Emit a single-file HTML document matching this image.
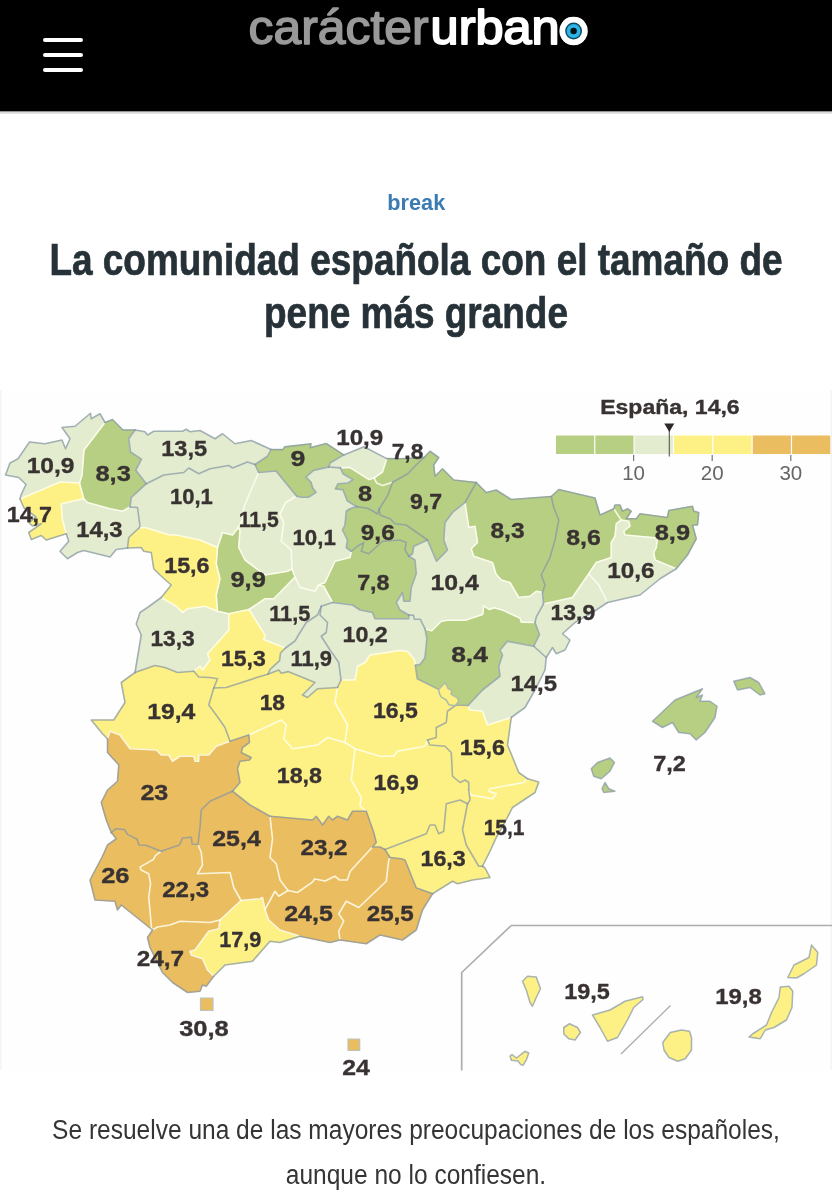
<!DOCTYPE html>
<html lang="es">
<head>
<meta charset="utf-8">
<title>La comunidad española con el tamaño de pene más grande</title>
<style>
html,body{margin:0;padding:0;background:#fff;}
body{width:832px;height:1200px;overflow:hidden;position:relative;font-family:"Liberation Sans",sans-serif;}
.hdr{position:absolute;left:0;top:0;width:832px;height:111px;background:#000;}
.burger{position:absolute;left:42.5px;top:37.8px;width:40px;height:34px;}
.burger i{position:absolute;left:0;width:40px;height:4.4px;border-radius:2.2px;background:#fff;}
.logo{position:absolute;left:0;top:0;width:832px;height:116px;}
.cat{position:absolute;left:0;top:186.7px;width:832px;text-align:center;font-weight:bold;font-size:22.7px;line-height:30px;color:#3b7bb4;}
.cat span{display:inline-block;transform:scaleX(0.955);transform-origin:50% 50%;}
h1{position:absolute;left:-100px;top:232.9px;width:1032px;margin:0;text-align:center;font-weight:bold;font-size:44px;line-height:53px;color:#263238;}
h1 span{-webkit-text-stroke:0.7px #263238;display:block;white-space:nowrap;transform:scaleX(0.84);transform-origin:50% 50%;}
.cap{position:absolute;left:-100px;top:1108px;width:1032px;margin:0;text-align:center;font-size:27px;line-height:45px;color:#353535;}
.cap span{display:block;white-space:nowrap;transform:scaleX(0.908);transform-origin:50% 50%;}
#map{position:absolute;left:0;top:0;width:832px;height:1200px;}
</style>
</head>
<body>
<div class="hdr">
  <div class="burger"><i style="top:0"></i><i style="top:15px"></i><i style="top:30px"></i></div>
</div>
<svg class="logo" viewBox="0 0 832 116" width="832" height="116">
  <rect x="0" y="110" width="832" height="1.6" fill="#000"/>
  <rect x="0" y="111.6" width="832" height="2.1" fill="#d9d9d9"/>
  <text x="248.6" y="44.3" font-family="Liberation Sans, sans-serif" font-size="47.5" fill="#999" stroke="#999" stroke-width="1.5" stroke-linejoin="round" textLength="180" lengthAdjust="spacingAndGlyphs">carácter</text>
  <text x="430.6" y="44.3" font-family="Liberation Sans, sans-serif" font-size="47.5" fill="#fff" stroke="#fff" stroke-width="1.9" stroke-linejoin="round" textLength="157" lengthAdjust="spacingAndGlyphs">urbano</text>
  <circle cx="573.6" cy="31" r="14.2" fill="#fff"/>
  <circle cx="573.6" cy="31" r="8.4" fill="#0b4560"/>
  <circle cx="573.6" cy="31" r="7" fill="#2bb4e4"/>
  <circle cx="573.6" cy="31" r="3.2" fill="#04121a"/>
</svg>
<div class="cat"><span>break</span></div>
<h1><span id="t1">La comunidad española con el tamaño de</span><span id="t2">pene más grande</span></h1>
<svg id="map" viewBox="0 0 832 1200" width="832" height="1200">
<rect x="0" y="390" width="832" height="680" fill="#fefefe"/>
<rect x="0" y="390" width="1.5" height="680" fill="#f4f4f4"/>
<rect x="830.5" y="390" width="1.5" height="680" fill="#f4f4f4"/>
<g stroke-linejoin="round" stroke-linecap="round">
<polygon points="105,422.5 112.5,419.5 123,430 135,430 128.75,438.75 130.5,452 141.5,459.1 135.8,470.2 146.3,483.7 131.25,497.5 130,507 122.5,511.25 110,508.75 87.5,502.5 83.75,498.75 79.5,483 82,475 84,450 105,422.5" fill="#b7cf83" stroke="#b7cf83" stroke-width="1"/>
<polygon points="255,464.5 267.5,456.25 271,449.5 282.7,449.6 284.6,446.9 311,443.8 310.2,447.7 326.2,443.5 343.8,454.9 330.4,462.8 328.7,467 313.6,470.4 306,477 311,482.2 312.7,488 316,492.3 308.5,497.3 301,497.3 296.5,496 276,471 258.75,472.5 255,464.5" fill="#b7cf83" stroke="#b7cf83" stroke-width="1"/>
<polygon points="374,478 382.5,472 386.75,458.6 400,458.75 424,457.5 416,465 407.8,473.7 392.6,482.2 382.5,485.5 376.7,483 374,478" fill="#b7cf83" stroke="#b7cf83" stroke-width="1"/>
<polygon points="340.5,467.9 349.7,467.4 369,479.6 374,478 376.7,483 382.5,485.5 392.6,482.2 387.6,495.6 379.2,509 377.5,514 372.4,510.8 367.4,508.2 356.5,506.6 347.2,500.7 343,489.7 335.4,488.9 338,483.8 348,483 353,479.6 343,473.7 340.5,467.9" fill="#b7cf83" stroke="#b7cf83" stroke-width="1"/>
<polygon points="392.6,482.2 407.8,473.7 416,465 424,457.5 430,451.25 438.75,457.5 433.75,465 435,476.25 442.5,468.75 453.75,480 476.25,482.5 465,502.5 452.5,512.5 445,522.5 443.75,540 447.5,550 436.5,561.25 427.5,540 406.25,525 395,523.75 390,518.75 380,515 379.2,509 387.6,495.6 392.6,482.2" fill="#b7cf83" stroke="#b7cf83" stroke-width="1"/>
<polygon points="356.5,506.6 367.4,508.2 372.4,510.8 377.5,514 379.2,509 380,515 390,518.75 395,523.75 406.25,525 427.5,540 413.75,546.25 412.5,553.75 408.75,556.25 405,550 406.25,542.5 400,540 382.5,541.25 368.75,553.75 361.25,551.25 363.75,542.5 357.5,546.25 351.25,551.25 346.25,547.5 347.5,540 342.5,530 345,525 346.25,511.25 350,508.75 356.5,506.6" fill="#b7cf83" stroke="#b7cf83" stroke-width="1"/>
<polygon points="476.25,482.5 465,502.5 468.75,527.5 475,526.25 477.5,542.5 471.25,548.75 473.75,556.25 492.5,562.5 496,574 501.25,580 510,582.5 518.75,597.5 530,596.25 536.25,591.25 542.5,592.5 545,585 541.25,575 550,557.5 555,540 558.75,520 553.75,507.5 551.25,496.5 511.25,499.5 496.25,490 486.25,492.5 476.25,482.5" fill="#b7cf83" stroke="#b7cf83" stroke-width="1"/>
<polygon points="535,622.5 539.4,634.6 533.75,646.25 507.5,641.25 500,650 502.5,655 498.75,666.25 500,676.25 482.5,690 468,705.5 456.25,705 447,698 438.5,689.4 417.3,678.8 415.4,665.4 420.2,664.4 425,657.7 426.9,638.5 425,628.8 431.7,630.8 441.3,621.2 448,620.2 465.4,620.2 482.7,614.4 483.7,605.8 489.4,609.6 494.2,607.7 503.8,610.6 520.2,618.3 521.2,622.1 535,622.5" fill="#b7cf83" stroke="#b7cf83" stroke-width="1"/>
<polygon points="551.25,496.5 553.75,507.5 558.75,520 555,540 550,557.5 541.25,575 545,585 542.5,592.5 543.5,604 572.5,597.5 577.5,590 588.75,573.75 596.25,562.5 611.25,557.5 611.25,542.5 615,536.25 616.25,523.75 621.25,520 613.75,508.75 600,515 595,498 558.75,489.5 551.25,496.5" fill="#b7cf83" stroke="#b7cf83" stroke-width="1"/>
<polygon points="613.75,508.75 621.25,520 628.75,521.25 630,526.25 623.75,531.25 625,535 657.5,538 656.25,547.5 653.75,552.5 655,560 676.25,568.75 687.5,555 696.25,538.75 692.5,525 697.5,525 698.75,512.5 693.75,511.25 692.5,506.25 668.75,510.5 667.5,517.5 640,513.75 636.25,518.75 626.25,518.75 631.25,511.25 627.5,508.75 622.5,511.25 620,505 615,505 613.75,508.75" fill="#b7cf83" stroke="#b7cf83" stroke-width="1"/>
<polygon points="217.5,547.5 222.5,532.5 232.5,535 238,528 240,530 238.75,547.5 245,560 265,575 287.5,571.25 292,569 295,577 273.75,598.75 265,598.75 249,609.5 228.75,613.75 217.5,611.25 216.25,595 220,578.75 216.25,563.75 217.5,547.5" fill="#b7cf83" stroke="#b7cf83" stroke-width="1"/>
<polygon points="408.75,556.25 405,550 406.25,542.5 400,540 382.5,541.25 368.75,553.75 361.25,551.25 363.75,542.5 357.5,546.25 351.25,551.25 350,557.5 335,561.25 325,582.5 318.75,585 323.75,586.25 332.5,602.5 352.5,605 360,610 372.5,612.5 375,618.75 408.75,618.75 408.75,615 400,610 396.25,602.5 402.5,592.5 403.75,601.25 410,601.25 411.25,587.5 416.25,573.75 415,560 408.75,556.25" fill="#b7cf83" stroke="#b7cf83" stroke-width="1"/>
<polygon points="20,499 21,495 26,484.5 18.75,477.5 5.5,475 10,463 18,458.75 29.5,442 45,443.75 62,440 65.5,448.75 70,438.75 62,427.5 75,426.25 90.5,413.25 91.25,418.75 100,413.75 105,422.5 84,450 82,475 79.5,483 60,482 20,499" fill="#e3ecce" stroke="#e3ecce" stroke-width="1"/>
<polygon points="83.75,498.75 61.25,503.75 62.5,520 66.25,533.75 68.75,541.25 60,551.25 67.5,558.75 77.5,552.5 83.75,550.5 110,557 116.25,549.5 127.5,548 128.75,537.5 139,528 140,526 137.5,507.5 130,507 122.5,511.25 110,508.75 87.5,502.5 83.75,498.75" fill="#e3ecce" stroke="#e3ecce" stroke-width="1"/>
<polygon points="146.3,483.7 135.8,470.2 141.5,459.1 130.5,452 128.75,438.75 135,430 145,431.75 147.5,435 153.75,431.25 182.5,431.25 186.25,429.25 190,431.75 200,430.5 215,438.75 222.5,433.75 235,443.75 251.25,440.5 271,449.5 267.5,456.25 255,464.5 247.5,462 232.5,468 228.75,465.5 210,468.75 198.75,473.75 188.75,468 183.75,472.5 163.75,475 146.3,483.7" fill="#e3ecce" stroke="#e3ecce" stroke-width="1"/>
<polygon points="343.8,454.9 330.4,462.8 328.7,467 340.5,467.9 349.7,467.4 369,479.6 374,478 382.5,472 386.75,458.6 364,446.8 343.8,454.9" fill="#e3ecce" stroke="#e3ecce" stroke-width="1"/>
<polygon points="465,502.5 452.5,512.5 445,522.5 443.75,540 447.5,550 436.5,561.25 427.5,540 413.75,546.25 412.5,553.75 408.75,556.25 415,560 416.25,573.75 411.25,587.5 410,601.25 403.75,601.25 402.5,592.5 396.25,602.5 400,610 408.75,615 413.5,615.4 414.4,619.2 420.2,619.2 425,628.8 431.7,630.8 441.3,621.2 448,620.2 465.4,620.2 482.7,614.4 483.7,605.8 489.4,609.6 494.2,607.7 503.8,610.6 520.2,618.3 521.2,622.1 535,622.5 536.5,616.3 543.5,604 542.5,592.5 536.25,591.25 530,596.25 518.75,597.5 510,582.5 501.25,580 496,574 492.5,562.5 473.75,556.25 471.25,548.75 477.5,542.5 475,526.25 468.75,527.5 465,502.5" fill="#e3ecce" stroke="#e3ecce" stroke-width="1"/>
<polygon points="621.25,520 616.25,523.75 615,536.25 611.25,542.5 611.25,557.5 596.25,562.5 588.75,573.75 598.75,585 607.5,602.5 640,595 660,578.75 676.25,568.75 655,560 653.75,552.5 656.25,547.5 657.5,538 625,535 623.75,531.25 630,526.25 628.75,521.25 621.25,520" fill="#e3ecce" stroke="#e3ecce" stroke-width="1"/>
<polygon points="588.75,573.75 577.5,590 572.5,597.5 543.5,604 536.5,616.3 535,622.5 539.4,634.6 533.75,646.25 546.25,657.5 552.5,647.5 556.25,653.75 565,650 570,640 562.5,633.75 575,622.5 592.5,612.5 607.5,602.5 598.75,585 588.75,573.75" fill="#e3ecce" stroke="#e3ecce" stroke-width="1"/>
<polygon points="130,507 131.25,497.5 146.3,483.7 163.75,475 183.75,472.5 188.75,468 198.75,473.75 210,468.75 228.75,465.5 232.5,468 247.5,462 255,464.5 258.75,472.5 250,492.5 243.75,507.5 242.5,520 238,528 232.5,535 222.5,532.5 217.5,547.5 200,540 176.25,535 170,535 145,527.5 139,528 140,526 137.5,507.5 130,507" fill="#e3ecce" stroke="#e3ecce" stroke-width="1"/>
<polygon points="217.5,611.25 228.75,613.75 228.75,630 207.5,653.75 210,660 202.5,670 200,666.25 193.75,671.25 177.5,672.5 165,667.5 155,665.5 135,672.5 141.25,635 136.25,624 140,612.5 147.5,607.5 161.25,597.5 176.25,606.25 182.5,612.5 187.5,608.75 205,606.25 217.5,611.25" fill="#e3ecce" stroke="#e3ecce" stroke-width="1"/>
<polygon points="258.75,472.5 276,471 296.5,496 285.6,502.7 279.8,514.2 283.75,522.5 281.25,541.25 291.25,550 292,569 287.5,571.25 265,575 245,560 238.75,547.5 240,530 238,528 242.5,520 243.75,507.5 250,492.5 258.75,472.5" fill="#e3ecce" stroke="#e3ecce" stroke-width="1"/>
<polygon points="296.5,496 301,497.3 308.5,497.3 316,492.3 312.7,488 311,482.2 306,477 313.6,470.4 328.7,467 340.5,467.9 343,473.7 353,479.6 348,483 338,483.8 335.4,488.9 343,489.7 347.2,500.7 356.5,506.6 350,508.75 346.25,511.25 345,525 342.5,530 347.5,540 346.25,547.5 351.25,551.25 350,557.5 335,561.25 325,582.5 318.75,585 315,591.25 300,587.5 295,577 292,569 291.25,550 281.25,541.25 283.75,522.5 279.8,514.2 285.6,502.7 296.5,496" fill="#e3ecce" stroke="#e3ecce" stroke-width="1"/>
<polygon points="295,577 273.75,598.75 265,598.75 249,609.5 265.3,635.4 263.7,639.6 285.5,648 295,641 300,632.5 306.25,622.5 317.5,615 321.25,606.25 332.5,602.5 323.75,586.25 318.75,585 315,591.25 300,587.5 295,577" fill="#e3ecce" stroke="#e3ecce" stroke-width="1"/>
<polygon points="321.25,606.25 317.5,615 306.25,622.5 300,632.5 295,641 285.5,648 280.5,653 279.6,660.7 270.4,669.1 267.9,674.2 278.8,670 281.3,673.3 288,671.6 315,682.5 302.5,695 307.5,697.5 317.5,688.75 337.5,687.5 341,680 338.75,662.5 330,650 321.25,636.25 326.25,632.5 327.5,622.5 320,615 321.25,606.25" fill="#e3ecce" stroke="#e3ecce" stroke-width="1"/>
<polygon points="408.75,615 413.5,615.4 414.4,619.2 420.2,619.2 425,628.8 426.9,638.5 425,657.7 420.2,664.4 415.4,665.4 414.4,659.6 407.7,651.5 400,650.4 370,655 365,662.5 357.5,666.25 355,680 341,680 338.75,662.5 330,650 321.25,636.25 326.25,632.5 327.5,622.5 320,615 321.25,606.25 332.5,602.5 352.5,605 360,610 372.5,612.5 375,618.75 408.75,618.75 408.75,615" fill="#e3ecce" stroke="#e3ecce" stroke-width="1"/>
<polygon points="533.75,646.25 546.25,657.5 545,670 535,690 525,707.5 511.25,717.5 487.5,725 482.5,711.25 470,710 468,705.5 482.5,690 500,676.25 498.75,666.25 502.5,655 500,650 507.5,641.25 533.75,646.25" fill="#e3ecce" stroke="#e3ecce" stroke-width="1"/>
<polygon points="79.5,483 60,482 20,499 23.75,507.5 36,517 28.75,522.5 32.5,526 41.25,523.75 28.75,532.5 31.25,539.5 41.25,535.5 46.25,540 66.25,533.75 62.5,520 61.25,503.75 83.75,498.75 79.5,483" fill="#fdf185" stroke="#fdf185" stroke-width="1"/>
<polygon points="139,528 128.75,537.5 127.5,548 141.25,547.5 143.75,551.25 151.25,552.5 153.75,568.75 160,575 171.25,585 161.25,597.5 176.25,606.25 182.5,612.5 187.5,608.75 205,606.25 217.5,611.25 216.25,595 220,578.75 216.25,563.75 217.5,547.5 200,540 176.25,535 170,535 145,527.5 139,528" fill="#fdf185" stroke="#fdf185" stroke-width="1"/>
<polygon points="228.75,613.75 249,609.5 265.3,635.4 263.7,639.6 285.5,648 280.5,653 279.6,660.7 270.4,669.1 267.9,674.2 260,676.5 226.25,687.5 213.75,688 217.5,678.75 210,677.5 198.75,677 193.75,671.25 200,666.25 202.5,670 210,660 207.5,653.75 228.75,630 228.75,613.75" fill="#fdf185" stroke="#fdf185" stroke-width="1"/>
<polygon points="415.4,665.4 417.3,678.8 438.5,689.4 447,698 456.25,705 452.5,707.5 447.5,711.25 446.25,722.5 436.25,727.5 436.25,737.5 427.5,740 425,746.25 397.5,751.25 393.75,756.25 380,756.25 355,748.75 345,742.5 347.5,725 335,702.5 337.5,687.5 341,680 355,680 357.5,666.25 365,662.5 370,655 400,650.4 407.7,651.5 414.4,659.6 415.4,665.4" fill="#fdf185" stroke="#fdf185" stroke-width="1"/>
<polygon points="267.9,674.2 260,676.5 226.25,687.5 213.75,688 208.75,705 212.5,710 216.25,715 225,727.5 230,741.25 248.75,735 281.25,720 286.25,725 283.75,738.75 292.5,748.75 317.5,745 327.5,737.5 345,742.5 347.5,725 335,702.5 337.5,687.5 317.5,688.75 307.5,697.5 302.5,695 315,682.5 288,671.6 281.3,673.3 278.8,670 267.9,674.2" fill="#fdf185" stroke="#fdf185" stroke-width="1"/>
<polygon points="345,742.5 355,748.75 351.25,780 361.25,797.5 360,806 366.25,811.25 352.5,811.25 347.5,820 337.5,816.25 332.5,820 328.75,816.25 322.5,825 316.25,816.25 312.5,820 270,816.25 250,805 232.5,791.25 240,782.5 237.5,768.75 240,761.25 249.5,760 251.25,757.5 241.25,752.5 242.5,747.5 249.5,742.5 248.75,735 281.25,720 286.25,725 283.75,738.75 292.5,748.75 317.5,745 327.5,737.5 345,742.5" fill="#fdf185" stroke="#fdf185" stroke-width="1"/>
<polygon points="427.5,740 430,745 445,746.25 451.25,752.5 452.5,776.25 460,782.5 465,780 468.75,782.5 468.75,790 470,800 467.5,803.75 460,800 446.25,803.75 443.75,831.25 438.75,833.75 435,825 430,825 426.25,833.75 385,849.5 380,847 372.5,847 376.25,842.5 373.75,832.5 366.25,811.25 360,806 361.25,797.5 351.25,780 355,748.75 380,756.25 393.75,756.25 397.5,751.25 425,746.25 427.5,740" fill="#fdf185" stroke="#fdf185" stroke-width="1"/>
<polygon points="135,672.5 155,665.5 165,667.5 177.5,672.5 193.75,671.25 198.75,677 210,677.5 217.5,678.75 213.75,688 208.75,705 212.5,710 216.25,715 225,727.5 230,741.25 216.25,746.25 208.75,755 198.75,755 198.75,761.25 195,761.25 193.75,756.25 180,756.25 172.5,761.25 168.75,755 161.25,755 156.25,750 130,748.75 120,735 110,731.25 107.5,738.75 102.5,733.75 91.25,720 113.75,720 125,702.5 121.25,682.5 135,672.5" fill="#fdf185" stroke="#fdf185" stroke-width="1"/>
<polygon points="456.25,705 468,705.5 470,710 482.5,711.25 487.5,725 511.25,717.5 507.5,745 518.75,772.5 527.5,778.75 523.75,782.5 490,788.75 488.75,791.25 496.25,793.75 492.5,798.75 471.25,795 468.75,790 468.75,782.5 465,780 460,782.5 452.5,776.25 451.25,752.5 445,746.25 430,745 427.5,740 436.25,737.5 436.25,727.5 446.25,722.5 447.5,711.25 452.5,707.5 456.25,705" fill="#fdf185" stroke="#fdf185" stroke-width="1"/>
<polygon points="468.75,790 471.25,795 492.5,798.75 496.25,793.75 488.75,791.25 490,788.75 523.75,782.5 527.5,778.75 538.75,782 535,792.5 512.5,807.5 505,822 496.25,837.5 490,851.25 482.5,866.25 478.75,866.25 466.25,845 462.5,830 467.5,803.75 470,800 468.75,790" fill="#fdf185" stroke="#fdf185" stroke-width="1"/>
<polygon points="467.5,803.75 462.5,830 466.25,845 478.75,866.25 482.5,866.25 485,868 490,877.5 472.5,880 457.5,883.75 452.5,881.25 432.5,893.75 418.75,888.75 416.25,888 405,860 401.25,858.75 390,857.5 385,849.5 426.25,833.75 430,825 435,825 438.75,833.75 443.75,831.25 446.25,803.75 460,800 467.5,803.75" fill="#fdf185" stroke="#fdf185" stroke-width="1"/>
<polygon points="220,920 241,900.5 260,898.75 262.5,897.5 265,909.5 268.75,920 280,930 300,936.25 280,942.5 270,941.25 252.5,961.25 225,965 213.75,976.25 207.5,970 202.5,958.75 191.25,955 190,951.25 195,950 208.75,931.25 218.75,928.75 220,920" fill="#fdf185" stroke="#fdf185" stroke-width="1"/>
<polygon points="230,741.25 248.75,735 249.5,742.5 242.5,747.5 241.25,752.5 251.25,757.5 249.5,760 240,761.25 237.5,768.75 240,782.5 232.5,791.25 210,801.25 201.25,810 200,827.5 198,844.5 192,844 191.4,837.3 182.5,838 179.4,845 161.2,851.2 145.8,845.3 139,845 137.1,839.2 127.5,834.4 124.6,829.6 116,828.7 111.25,832.5 106.25,820 101.25,802.5 107.5,790 117.5,781.25 118.75,765 107.5,752.5 107.5,738.75 110,731.25 120,735 130,748.75 156.25,750 161.25,755 168.75,755 172.5,761.25 180,756.25 193.75,756.25 195,761.25 198.75,761.25 198.75,755 208.75,755 216.25,746.25 230,741.25" fill="#e9bd60" stroke="#e9bd60" stroke-width="1"/>
<polygon points="161.2,851.2 145.8,845.3 139,845 137.1,839.2 127.5,834.4 124.6,829.6 116,828.7 111.25,832.5 116.25,838.75 107.5,845 102.5,856.25 90,880 95,900 115,901.25 117.5,910 121.25,905 152.5,930 151.5,927.7 148.7,897 150.6,883.5 148.7,873.8 141,870 140,867.1 153.5,859.4 155.4,855.6 161.2,851.2" fill="#e9bd60" stroke="#e9bd60" stroke-width="1"/>
<polygon points="198,844.5 192,844 191.4,837.3 182.5,838 179.4,845 161.2,851.2 155.4,855.6 153.5,859.4 140,867.1 141,870 148.7,873.8 150.6,883.5 148.7,897 151.5,927.7 152.5,930 157.5,927 170,925 180,921.25 210,922.5 220,920 241,900.5 233.75,887.5 230,872.5 197.5,873.75 202.5,865 201.25,852.5 198,844.5" fill="#e9bd60" stroke="#e9bd60" stroke-width="1"/>
<polygon points="152.5,930 157.5,927 170,925 180,921.25 210,922.5 220,920 218.75,928.75 208.75,931.25 195,950 190,951.25 191.25,955 202.5,958.75 207.5,970 213.75,976.25 206.25,986.25 202.5,985 200,991.25 187.5,992.5 172.5,982.5 162.5,972.5 150,947.5 147.5,937.5 152.5,930" fill="#e9bd60" stroke="#e9bd60" stroke-width="1"/>
<polygon points="232.5,791.25 210,801.25 201.25,810 200,827.5 198,844.5 201.25,852.5 202.5,865 197.5,873.75 230,872.5 233.75,887.5 241,900.5 260,898.75 262.5,897.5 265,909.5 275,891.25 278.75,896.25 288,890.5 280,880 276.25,863.75 270,857.5 272.5,838.75 270,816.25 250,805 232.5,791.25" fill="#e9bd60" stroke="#e9bd60" stroke-width="1"/>
<polygon points="270,816.25 272.5,838.75 270,857.5 276.25,863.75 280,880 288,890.5 297.5,892.5 312.7,881.9 314.6,879 325.2,881 334.8,876.2 339.6,880 347.3,880 350.2,871.3 372.5,847 376.25,842.5 373.75,832.5 366.25,811.25 352.5,811.25 347.5,820 337.5,816.25 332.5,820 328.75,816.25 322.5,825 316.25,816.25 312.5,820 270,816.25" fill="#e9bd60" stroke="#e9bd60" stroke-width="1"/>
<polygon points="385,849.5 390,857.5 388.75,860 386.25,881.25 358.75,907.5 346.25,901.25 338.75,913.75 343.75,921.25 338.75,931.25 340,940 330,942.5 300,936.25 280,930 268.75,920 265,909.5 275,891.25 278.75,896.25 288,890.5 297.5,892.5 312.7,881.9 314.6,879 325.2,881 334.8,876.2 339.6,880 347.3,880 350.2,871.3 372.5,847 380,847 385,849.5" fill="#e9bd60" stroke="#e9bd60" stroke-width="1"/>
<polygon points="390,857.5 401.25,858.75 405,860 416.25,888 418.75,888.75 432.5,893.75 422.5,910 416.25,930 402.5,940 380,935 366.25,943.75 340,940 338.75,931.25 343.75,921.25 338.75,913.75 346.25,901.25 358.75,907.5 386.25,881.25 388.75,860 390,857.5" fill="#e9bd60" stroke="#e9bd60" stroke-width="1"/>
<g fill="none" stroke="#fffff2" stroke-width="1.6" stroke-opacity="0.85" >
<polyline points="105,422.5 84,450 82,475 79.5,483"/>
<polyline points="79.5,483 60,482 20,499"/>
<polyline points="79.5,483 83.75,498.75"/>
<polyline points="83.75,498.75 61.25,503.75 62.5,520 66.25,533.75"/>
<polyline points="83.75,498.75 87.5,502.5 110,508.75 122.5,511.25 130,507"/>
<polyline points="340.5,467.9 349.7,467.4 369,479.6 374,478"/>
<polyline points="374,478 382.5,472 386.75,458.6"/>
<polyline points="374,478 376.7,483 382.5,485.5 392.6,482.2"/>
<polyline points="465,502.5 468.75,527.5 475,526.25 477.5,542.5 471.25,548.75 473.75,556.25 492.5,562.5 496,574 501.25,580 510,582.5 518.75,597.5 530,596.25 536.25,591.25 542.5,592.5"/>
<polyline points="613.75,508.75 621.25,520"/>
<polyline points="621.25,520 616.25,523.75 615,536.25 611.25,542.5 611.25,557.5 596.25,562.5 588.75,573.75"/>
<polyline points="588.75,573.75 577.5,590 572.5,597.5 543.5,604"/>
<polyline points="588.75,573.75 598.75,585 607.5,602.5"/>
<polyline points="621.25,520 628.75,521.25 630,526.25 623.75,531.25 625,535 657.5,538 656.25,547.5 653.75,552.5 655,560 676.25,568.75"/>
<polyline points="425,628.8 431.7,630.8 441.3,621.2 448,620.2 465.4,620.2 482.7,614.4 483.7,605.8 489.4,609.6 494.2,607.7 503.8,610.6 520.2,618.3 521.2,622.1 535,622.5"/>
<polyline points="468,705.5 470,710 482.5,711.25 487.5,725 511.25,717.5"/>
<polyline points="468.75,790 471.25,795 492.5,798.75 496.25,793.75 488.75,791.25 490,788.75 523.75,782.5 527.5,778.75"/>
<polyline points="139,528 145,527.5 170,535 176.25,535 200,540 217.5,547.5"/>
<polyline points="217.5,547.5 222.5,532.5 232.5,535 238,528"/>
<polyline points="258.75,472.5 250,492.5 243.75,507.5 242.5,520 238,528"/>
<polyline points="238,528 240,530 238.75,547.5 245,560 265,575 287.5,571.25 292,569"/>
<polyline points="296.5,496 285.6,502.7 279.8,514.2 283.75,522.5 281.25,541.25 291.25,550 292,569"/>
<polyline points="292,569 295,577"/>
<polyline points="295,577 273.75,598.75 265,598.75 249,609.5"/>
<polyline points="217.5,547.5 216.25,563.75 220,578.75 216.25,595 217.5,611.25"/>
<polyline points="217.5,611.25 228.75,613.75"/>
<polyline points="228.75,613.75 249,609.5"/>
<polyline points="217.5,611.25 205,606.25 187.5,608.75 182.5,612.5 176.25,606.25 161.25,597.5"/>
<polyline points="193.75,671.25 200,666.25 202.5,670 210,660 207.5,653.75 228.75,630 228.75,613.75"/>
<polyline points="249,609.5 265.3,635.4 263.7,639.6 285.5,648"/>
<polyline points="295,577 300,587.5 315,591.25 318.75,585"/>
<polyline points="318.75,585 325,582.5 335,561.25 350,557.5 351.25,551.25"/>
<polyline points="318.75,585 323.75,586.25 332.5,602.5"/>
<polyline points="341,680 355,680 357.5,666.25 365,662.5 370,655 400,650.4 407.7,651.5 414.4,659.6 415.4,665.4"/>
<polyline points="337.5,687.5 335,702.5 347.5,725 345,742.5"/>
<polyline points="345,742.5 355,748.75"/>
<polyline points="355,748.75 380,756.25 393.75,756.25 397.5,751.25 425,746.25 427.5,740"/>
<polyline points="248.75,735 281.25,720 286.25,725 283.75,738.75 292.5,748.75 317.5,745 327.5,737.5 345,742.5"/>
<polyline points="355,748.75 351.25,780 361.25,797.5 360,806 366.25,811.25"/>
<polyline points="107.5,738.75 110,731.25 120,735 130,748.75 156.25,750 161.25,755 168.75,755 172.5,761.25 180,756.25 193.75,756.25 195,761.25 198.75,761.25 198.75,755 208.75,755 216.25,746.25 230,741.25"/>
<polyline points="161.2,851.2 155.4,855.6 153.5,859.4 140,867.1 141,870 148.7,873.8 150.6,883.5 148.7,897 151.5,927.7 152.5,930"/>
<polyline points="152.5,930 157.5,927 170,925 180,921.25 210,922.5 220,920"/>
<polyline points="220,920 241,900.5"/>
<polyline points="198,844.5 201.25,852.5 202.5,865 197.5,873.75 230,872.5 233.75,887.5 241,900.5"/>
<polyline points="241,900.5 260,898.75 262.5,897.5 265,909.5"/>
<polyline points="270,816.25 272.5,838.75 270,857.5 276.25,863.75 280,880 288,890.5"/>
<polyline points="288,890.5 278.75,896.25 275,891.25 265,909.5"/>
<polyline points="288,890.5 297.5,892.5 312.7,881.9 314.6,879 325.2,881 334.8,876.2 339.6,880 347.3,880 350.2,871.3 372.5,847"/>
<polyline points="265,909.5 268.75,920 280,930 300,936.25"/>
<polyline points="220,920 218.75,928.75 208.75,931.25 195,950 190,951.25 191.25,955 202.5,958.75 207.5,970 213.75,976.25"/>
<polyline points="340,940 338.75,931.25 343.75,921.25 338.75,913.75 346.25,901.25 358.75,907.5 386.25,881.25 388.75,860 390,857.5"/>
</g>
<g fill="none" stroke="#8496a6" stroke-width="1.6" stroke-opacity="0.7">
<polyline points="20,499 21,495 26,484.5 18.75,477.5 5.5,475 10,463 18,458.75 29.5,442 45,443.75 62,440 65.5,448.75 70,438.75 62,427.5 75,426.25 90.5,413.25 91.25,418.75 100,413.75 105,422.5"/>
<polyline points="105,422.5 112.5,419.5 123,430 135,430"/>
<polyline points="66.25,533.75 46.25,540 41.25,535.5 31.25,539.5 28.75,532.5 41.25,523.75 32.5,526 28.75,522.5 36,517 23.75,507.5 20,499"/>
<polyline points="130,507 131.25,497.5 146.3,483.7"/>
<polyline points="146.3,483.7 135.8,470.2 141.5,459.1 130.5,452 128.75,438.75 135,430"/>
<polyline points="130,507 137.5,507.5 140,526 139,528"/>
<polyline points="139,528 128.75,537.5 127.5,548"/>
<polyline points="127.5,548 116.25,549.5 110,557 83.75,550.5 77.5,552.5 67.5,558.75 60,551.25 68.75,541.25 66.25,533.75"/>
<polyline points="135,430 145,431.75 147.5,435 153.75,431.25 182.5,431.25 186.25,429.25 190,431.75 200,430.5 215,438.75 222.5,433.75 235,443.75 251.25,440.5 271,449.5"/>
<polyline points="146.3,483.7 163.75,475 183.75,472.5 188.75,468 198.75,473.75 210,468.75 228.75,465.5 232.5,468 247.5,462 255,464.5"/>
<polyline points="255,464.5 267.5,456.25 271,449.5"/>
<polyline points="255,464.5 258.75,472.5"/>
<polyline points="271,449.5 282.7,449.6 284.6,446.9 311,443.8 310.2,447.7 326.2,443.5 343.8,454.9"/>
<polyline points="343.8,454.9 330.4,462.8 328.7,467"/>
<polyline points="258.75,472.5 276,471 296.5,496"/>
<polyline points="296.5,496 301,497.3 308.5,497.3 316,492.3 312.7,488 311,482.2 306,477 313.6,470.4 328.7,467"/>
<polyline points="328.7,467 340.5,467.9"/>
<polyline points="343.8,454.9 364,446.8 386.75,458.6"/>
<polyline points="386.75,458.6 400,458.75 424,457.5"/>
<polyline points="392.6,482.2 407.8,473.7 416,465 424,457.5"/>
<polyline points="392.6,482.2 387.6,495.6 379.2,509"/>
<polyline points="340.5,467.9 343,473.7 353,479.6 348,483 338,483.8 335.4,488.9 343,489.7 347.2,500.7 356.5,506.6"/>
<polyline points="356.5,506.6 367.4,508.2 372.4,510.8 377.5,514 379.2,509"/>
<polyline points="424,457.5 430,451.25 438.75,457.5 433.75,465 435,476.25 442.5,468.75 453.75,480 476.25,482.5"/>
<polyline points="476.25,482.5 465,502.5"/>
<polyline points="465,502.5 452.5,512.5 445,522.5 443.75,540 447.5,550 436.5,561.25 427.5,540"/>
<polyline points="379.2,509 380,515 390,518.75 395,523.75 406.25,525 427.5,540"/>
<polyline points="427.5,540 413.75,546.25 412.5,553.75 408.75,556.25"/>
<polyline points="408.75,556.25 405,550 406.25,542.5 400,540 382.5,541.25 368.75,553.75 361.25,551.25 363.75,542.5 357.5,546.25 351.25,551.25"/>
<polyline points="356.5,506.6 350,508.75 346.25,511.25 345,525 342.5,530 347.5,540 346.25,547.5 351.25,551.25"/>
<polyline points="476.25,482.5 486.25,492.5 496.25,490 511.25,499.5 551.25,496.5"/>
<polyline points="551.25,496.5 553.75,507.5 558.75,520 555,540 550,557.5 541.25,575 545,585 542.5,592.5"/>
<polyline points="542.5,592.5 543.5,604"/>
<polyline points="551.25,496.5 558.75,489.5 595,498 600,515 613.75,508.75"/>
<polyline points="613.75,508.75 615,505 620,505 622.5,511.25 627.5,508.75 631.25,511.25 626.25,518.75 636.25,518.75 640,513.75 667.5,517.5 668.75,510.5 692.5,506.25 693.75,511.25 698.75,512.5 697.5,525 692.5,525 696.25,538.75 687.5,555 676.25,568.75"/>
<polyline points="676.25,568.75 660,578.75 640,595 607.5,602.5"/>
<polyline points="607.5,602.5 592.5,612.5 575,622.5 562.5,633.75 570,640 565,650 556.25,653.75 552.5,647.5 546.25,657.5"/>
<polyline points="543.5,604 536.5,616.3 535,622.5"/>
<polyline points="535,622.5 539.4,634.6 533.75,646.25"/>
<polyline points="533.75,646.25 546.25,657.5"/>
<polyline points="408.75,556.25 415,560 416.25,573.75 411.25,587.5 410,601.25 403.75,601.25 402.5,592.5 396.25,602.5 400,610 408.75,615"/>
<polyline points="408.75,615 413.5,615.4 414.4,619.2 420.2,619.2 425,628.8"/>
<polyline points="425,628.8 426.9,638.5 425,657.7 420.2,664.4 415.4,665.4"/>
<polyline points="415.4,665.4 417.3,678.8 438.5,689.4 447,698 456.25,705"/>
<polyline points="456.25,705 468,705.5"/>
<polyline points="533.75,646.25 507.5,641.25 500,650 502.5,655 498.75,666.25 500,676.25 482.5,690 468,705.5"/>
<polyline points="546.25,657.5 545,670 535,690 525,707.5 511.25,717.5"/>
<polyline points="456.25,705 452.5,707.5 447.5,711.25 446.25,722.5 436.25,727.5 436.25,737.5 427.5,740"/>
<polyline points="427.5,740 430,745 445,746.25 451.25,752.5 452.5,776.25 460,782.5 465,780 468.75,782.5 468.75,790"/>
<polyline points="511.25,717.5 507.5,745 518.75,772.5 527.5,778.75"/>
<polyline points="527.5,778.75 538.75,782 535,792.5 512.5,807.5 505,822 496.25,837.5 490,851.25 482.5,866.25"/>
<polyline points="468.75,790 470,800 467.5,803.75"/>
<polyline points="467.5,803.75 462.5,830 466.25,845 478.75,866.25 482.5,866.25"/>
<polyline points="482.5,866.25 485,868 490,877.5 472.5,880 457.5,883.75 452.5,881.25 432.5,893.75"/>
<polyline points="385,849.5 426.25,833.75 430,825 435,825 438.75,833.75 443.75,831.25 446.25,803.75 460,800 467.5,803.75"/>
<polyline points="390,857.5 401.25,858.75 405,860 416.25,888 418.75,888.75 432.5,893.75"/>
<polyline points="385,849.5 390,857.5"/>
<polyline points="127.5,548 141.25,547.5 143.75,551.25 151.25,552.5 153.75,568.75 160,575 171.25,585 161.25,597.5"/>
<polyline points="161.25,597.5 147.5,607.5 140,612.5 136.25,624 141.25,635 135,672.5"/>
<polyline points="135,672.5 155,665.5 165,667.5 177.5,672.5 193.75,671.25"/>
<polyline points="332.5,602.5 321.25,606.25"/>
<polyline points="321.25,606.25 317.5,615 306.25,622.5 300,632.5 295,641 285.5,648"/>
<polyline points="332.5,602.5 352.5,605 360,610 372.5,612.5 375,618.75 408.75,618.75 408.75,615"/>
<polyline points="285.5,648 280.5,653 279.6,660.7 270.4,669.1 267.9,674.2"/>
<polyline points="267.9,674.2 260,676.5 226.25,687.5 213.75,688"/>
<polyline points="193.75,671.25 198.75,677 210,677.5 217.5,678.75 213.75,688"/>
<polyline points="321.25,606.25 320,615 327.5,622.5 326.25,632.5 321.25,636.25 330,650 338.75,662.5 341,680"/>
<polyline points="341,680 337.5,687.5"/>
<polyline points="267.9,674.2 278.8,670 281.3,673.3 288,671.6 315,682.5 302.5,695 307.5,697.5 317.5,688.75 337.5,687.5"/>
<polyline points="213.75,688 208.75,705 212.5,710 216.25,715 225,727.5 230,741.25"/>
<polyline points="230,741.25 248.75,735"/>
<polyline points="135,672.5 121.25,682.5 125,702.5 113.75,720 91.25,720 102.5,733.75 107.5,738.75"/>
<polyline points="248.75,735 249.5,742.5 242.5,747.5 241.25,752.5 251.25,757.5 249.5,760 240,761.25 237.5,768.75 240,782.5 232.5,791.25"/>
<polyline points="232.5,791.25 210,801.25 201.25,810 200,827.5 198,844.5"/>
<polyline points="198,844.5 192,844 191.4,837.3 182.5,838 179.4,845 161.2,851.2"/>
<polyline points="161.2,851.2 145.8,845.3 139,845 137.1,839.2 127.5,834.4 124.6,829.6 116,828.7 111.25,832.5"/>
<polyline points="107.5,738.75 107.5,752.5 118.75,765 117.5,781.25 107.5,790 101.25,802.5 106.25,820 111.25,832.5"/>
<polyline points="111.25,832.5 116.25,838.75 107.5,845 102.5,856.25 90,880 95,900 115,901.25 117.5,910 121.25,905 152.5,930"/>
<polyline points="232.5,791.25 250,805 270,816.25"/>
<polyline points="270,816.25 312.5,820 316.25,816.25 322.5,825 328.75,816.25 332.5,820 337.5,816.25 347.5,820 352.5,811.25 366.25,811.25"/>
<polyline points="366.25,811.25 373.75,832.5 376.25,842.5 372.5,847"/>
<polyline points="372.5,847 380,847 385,849.5"/>
<polyline points="152.5,930 147.5,937.5 150,947.5 162.5,972.5 172.5,982.5 187.5,992.5 200,991.25 202.5,985 206.25,986.25 213.75,976.25"/>
<polyline points="213.75,976.25 225,965 252.5,961.25 270,941.25 280,942.5 300,936.25"/>
<polyline points="300,936.25 330,942.5 340,940"/>
<polyline points="340,940 366.25,943.75 380,935 402.5,940 416.25,930 422.5,910 432.5,893.75"/>
</g>
<polygon points="438.5,689.4 445.2,682.7 448.1,688.5 451.9,690.4 451,694.2 457.7,698.1 458.7,701.9 454.8,705.8 449,704.8 446.2,700 441.3,697.1 439.4,693.3" fill="#fdf185" stroke="#aebca5" stroke-width="1.5"/>
<polygon points="652.5,721.25 675,700 702.5,688.75 696.25,697.5 702.5,695 700,701.25 710,701.25 717,706.25 715,717.5 705,732.5 696.25,740 690,733.75 678.75,732.5 672.5,722.5 662.5,727.5" fill="#b7cf83" stroke="#8496a6" stroke-opacity="0.7" stroke-width="1.5"/>
<polygon points="733.75,681.25 750,677.5 758.75,682.5 765,693.75 760,695 750,687.5 737.5,690" fill="#b7cf83" stroke="#8496a6" stroke-opacity="0.7" stroke-width="1.5"/>
<polygon points="591.25,768.75 597.5,762.5 610,758 614.5,762.5 610,771.25 601.25,778.75 593.75,776.25" fill="#b7cf83" stroke="#8496a6" stroke-opacity="0.7" stroke-width="1.5"/>
<polygon points="605,782.5 608.75,788.75 615,791.25 603.75,792.5 602,788.75" fill="#b7cf83" stroke="#8496a6" stroke-opacity="0.7" stroke-width="1.5"/>
<polygon points="522.5,981.25 527.5,976.25 536.25,977 540.5,988.75 536.25,997.5 532.5,1006.25 530,1002.5 526.25,990" fill="#fdf185" stroke="#8496a6" stroke-opacity="0.7" stroke-width="1.5"/>
<polygon points="563.75,1027.5 569.5,1023.75 577.5,1027.5 580.5,1032.5 575,1040 568.75,1038.75 563.75,1033.75" fill="#fdf185" stroke="#8496a6" stroke-opacity="0.7" stroke-width="1.5"/>
<polygon points="592.5,1015 610,1010 625,1001.25 642.5,996.75 643,999.5 633.75,1007.5 627.5,1020 617.5,1037.5 607.5,1041.25 600,1027.5" fill="#fdf185" stroke="#8496a6" stroke-opacity="0.7" stroke-width="1.5"/>
<polygon points="510,1056 512,1054.5 516.4,1058 525,1051.3 528.7,1053 526.5,1059.6 523,1065.3 520.8,1064.6 518,1061 511.4,1060.3" fill="#fdf185" stroke="#8496a6" stroke-opacity="0.7" stroke-width="1.5"/>
<polygon points="662.75,1042.5 670.25,1032.5 681.5,1030 689.5,1031.25 691.5,1037.5 691.5,1050 685.25,1058.75 677.75,1061.25 669,1057.5 664,1050" fill="#fdf185" stroke="#8496a6" stroke-opacity="0.7" stroke-width="1.5"/>
<polygon points="780.25,987 789,986.25 792.75,991.25 792,1007.5 786.5,1020 774,1027.5 765.25,1030 760.25,1038.75 749,1037 752.75,1033.75 766.5,1025 771.5,1012.5 779,997.5" fill="#fdf185" stroke="#8496a6" stroke-opacity="0.7" stroke-width="1.5"/>
<polygon points="787.75,977.5 794,965 809,957.5 811.5,945 817.75,952.5 816.5,965 804,973.75 796.5,978" fill="#fdf185" stroke="#8496a6" stroke-opacity="0.7" stroke-width="1.5"/>
<rect x="200.5" y="998" width="12.5" height="12.5" fill="#e9bd60" stroke="#b9c3c0" stroke-width="1.2"/>
<rect x="348" y="1039" width="11.7" height="11.5" fill="#e9bd60" stroke="#b9c3c0" stroke-width="1.2"/>
</g>
<polyline points="461.7,1070.5 461.7,972.5 511.25,925.5 832,925.5" fill="none" stroke="#adadad" stroke-width="1.7"/>
<line x1="621" y1="1054" x2="670.5" y2="1005.5" stroke="#a9a9a9" stroke-width="1.2"/>
<rect x="556" y="435.5" width="38.15" height="18.5" fill="#b7cf83"/>
<rect x="595.35" y="435.5" width="38.15" height="18.5" fill="#b7cf83"/>
<rect x="634.7" y="435.5" width="38.15" height="18.5" fill="#e3ecce"/>
<rect x="674.05" y="435.5" width="38.15" height="18.5" fill="#fdf185"/>
<rect x="713.4" y="435.5" width="38.15" height="18.5" fill="#fdf185"/>
<rect x="752.75" y="435.5" width="38.15" height="18.5" fill="#e9bd60"/>
<rect x="792.1" y="435.5" width="38.15" height="18.5" fill="#e9bd60"/>
<g stroke="#777" stroke-width="1.2">
<line x1="633.6" y1="455" x2="633.6" y2="461" />
<line x1="712.2" y1="455" x2="712.2" y2="461" />
<line x1="790.8" y1="455" x2="790.8" y2="461" />
</g>
<line x1="669.3" y1="428" x2="669.3" y2="456.5" stroke="#5a5555" stroke-width="1.1"/>
<polygon points="664.3,423.6 674.3,423.6 669.3,432" fill="#2e2828"/>
<g font-family="Liberation Sans, sans-serif" font-size="20.5" fill="#666" text-anchor="middle">
<text x="633.6" y="480.4">10</text>
<text x="712.2" y="480.4">20</text>
<text x="790.8" y="480.4">30</text>
</g>
<text x="600.2" y="413.6" font-family="Liberation Sans, sans-serif" font-weight="bold" font-size="21" stroke="#393232" stroke-width="0.35" fill="#393232" textLength="139.5" lengthAdjust="spacingAndGlyphs">España, 14,6</text>
<g font-family="Liberation Sans, sans-serif" font-weight="bold" font-size="22.8" fill="#393232" stroke="#393232" stroke-width="0.35">
<text x="26.7" y="473.3" textLength="47.85" lengthAdjust="spacingAndGlyphs">10,9</text>
<text x="95.45" y="481.3" textLength="35.35" lengthAdjust="spacingAndGlyphs">8,3</text>
<text x="161.2" y="456.3" textLength="45.85" lengthAdjust="spacingAndGlyphs">13,5</text>
<text x="169.95" y="503.8" textLength="42.85" lengthAdjust="spacingAndGlyphs">10,1</text>
<text x="6.7" y="522.05" textLength="45.35" lengthAdjust="spacingAndGlyphs">14,7</text>
<text x="76.2" y="537.05" textLength="46.35" lengthAdjust="spacingAndGlyphs">14,3</text>
<text x="164.2" y="573.3" textLength="45.35" lengthAdjust="spacingAndGlyphs">15,6</text>
<text x="230.45" y="587.05" textLength="35.35" lengthAdjust="spacingAndGlyphs">9,9</text>
<text x="238.7" y="527.3" textLength="40.1" lengthAdjust="spacingAndGlyphs">11,5</text>
<text x="292.45" y="544.55" textLength="43.35" lengthAdjust="spacingAndGlyphs">10,1</text>
<text x="290.45" y="466.3" textLength="14.85" lengthAdjust="spacingAndGlyphs">9</text>
<text x="336.2" y="445.3" textLength="47.1" lengthAdjust="spacingAndGlyphs">10,9</text>
<text x="391.7" y="458.8" textLength="31.6" lengthAdjust="spacingAndGlyphs">7,8</text>
<text x="357.95" y="501.3" textLength="14.1" lengthAdjust="spacingAndGlyphs">8</text>
<text x="409.95" y="508.8" textLength="32.1" lengthAdjust="spacingAndGlyphs">9,7</text>
<text x="360.7" y="539.55" textLength="34.1" lengthAdjust="spacingAndGlyphs">9,6</text>
<text x="490.45" y="537.8" textLength="34.1" lengthAdjust="spacingAndGlyphs">8,3</text>
<text x="566.2" y="545.3" textLength="34.6" lengthAdjust="spacingAndGlyphs">8,6</text>
<text x="654.7" y="539.55" textLength="35.35" lengthAdjust="spacingAndGlyphs">8,9</text>
<text x="607.2" y="577.8" textLength="47.35" lengthAdjust="spacingAndGlyphs">10,6</text>
<text x="550.45" y="619.55" textLength="44.85" lengthAdjust="spacingAndGlyphs">13,9</text>
<text x="430.45" y="589.55" textLength="48.35" lengthAdjust="spacingAndGlyphs">10,4</text>
<text x="357.2" y="589.55" textLength="32.35" lengthAdjust="spacingAndGlyphs">7,8</text>
<text x="269.2" y="620.8" textLength="41.1" lengthAdjust="spacingAndGlyphs">11,5</text>
<text x="342.45" y="642.05" textLength="45.35" lengthAdjust="spacingAndGlyphs">10,2</text>
<text x="150.45" y="646.3" textLength="44.35" lengthAdjust="spacingAndGlyphs">13,3</text>
<text x="220.95" y="666.3" textLength="44.85" lengthAdjust="spacingAndGlyphs">15,3</text>
<text x="290.45" y="666.3" textLength="41.6" lengthAdjust="spacingAndGlyphs">11,9</text>
<text x="451.2" y="662.05" textLength="36.6" lengthAdjust="spacingAndGlyphs">8,4</text>
<text x="510.45" y="690.8" textLength="46.6" lengthAdjust="spacingAndGlyphs">14,5</text>
<text x="147.2" y="718.8" textLength="48.1" lengthAdjust="spacingAndGlyphs">19,4</text>
<text x="259.7" y="710.3" textLength="25.35" lengthAdjust="spacingAndGlyphs">18</text>
<text x="372.95" y="718.3" textLength="44.85" lengthAdjust="spacingAndGlyphs">16,5</text>
<text x="459.7" y="755.3" textLength="45.35" lengthAdjust="spacingAndGlyphs">15,6</text>
<text x="276.7" y="782.8" textLength="45.35" lengthAdjust="spacingAndGlyphs">18,8</text>
<text x="373.45" y="789.55" textLength="45.35" lengthAdjust="spacingAndGlyphs">16,9</text>
<text x="140.45" y="800.3" textLength="27.85" lengthAdjust="spacingAndGlyphs">23</text>
<text x="212.2" y="846.3" textLength="48.6" lengthAdjust="spacingAndGlyphs">25,4</text>
<text x="300.45" y="855.05" textLength="47.1" lengthAdjust="spacingAndGlyphs">23,2</text>
<text x="483.7" y="834.55" textLength="40.85" lengthAdjust="spacingAndGlyphs">15,1</text>
<text x="420.45" y="865.8" textLength="45.35" lengthAdjust="spacingAndGlyphs">16,3</text>
<text x="101.2" y="883.3" textLength="28.35" lengthAdjust="spacingAndGlyphs">26</text>
<text x="162.2" y="897.05" textLength="46.85" lengthAdjust="spacingAndGlyphs">22,3</text>
<text x="284.2" y="920.8" textLength="48.6" lengthAdjust="spacingAndGlyphs">24,5</text>
<text x="366.7" y="920.8" textLength="47.1" lengthAdjust="spacingAndGlyphs">25,5</text>
<text x="136.7" y="965.8" textLength="47.35" lengthAdjust="spacingAndGlyphs">24,7</text>
<text x="219.2" y="947.05" textLength="42.1" lengthAdjust="spacingAndGlyphs">17,9</text>
<text x="179.2" y="1036.3" textLength="49.6" lengthAdjust="spacingAndGlyphs">30,8</text>
<text x="342.2" y="1075" textLength="27.6" lengthAdjust="spacingAndGlyphs">24</text>
<text x="653.2" y="770.8" textLength="32.6" lengthAdjust="spacingAndGlyphs">7,2</text>
<text x="564.2" y="998.8" textLength="45.6" lengthAdjust="spacingAndGlyphs">19,5</text>
<text x="715.2" y="1003.8" textLength="46.6" lengthAdjust="spacingAndGlyphs">19,8</text>
</g>
</svg>
<p class="cap"><span id="c1">Se resuelve una de las mayores preocupaciones de los españoles,</span><span id="c2">aunque no lo confiesen.</span></p>
</body>
</html>
